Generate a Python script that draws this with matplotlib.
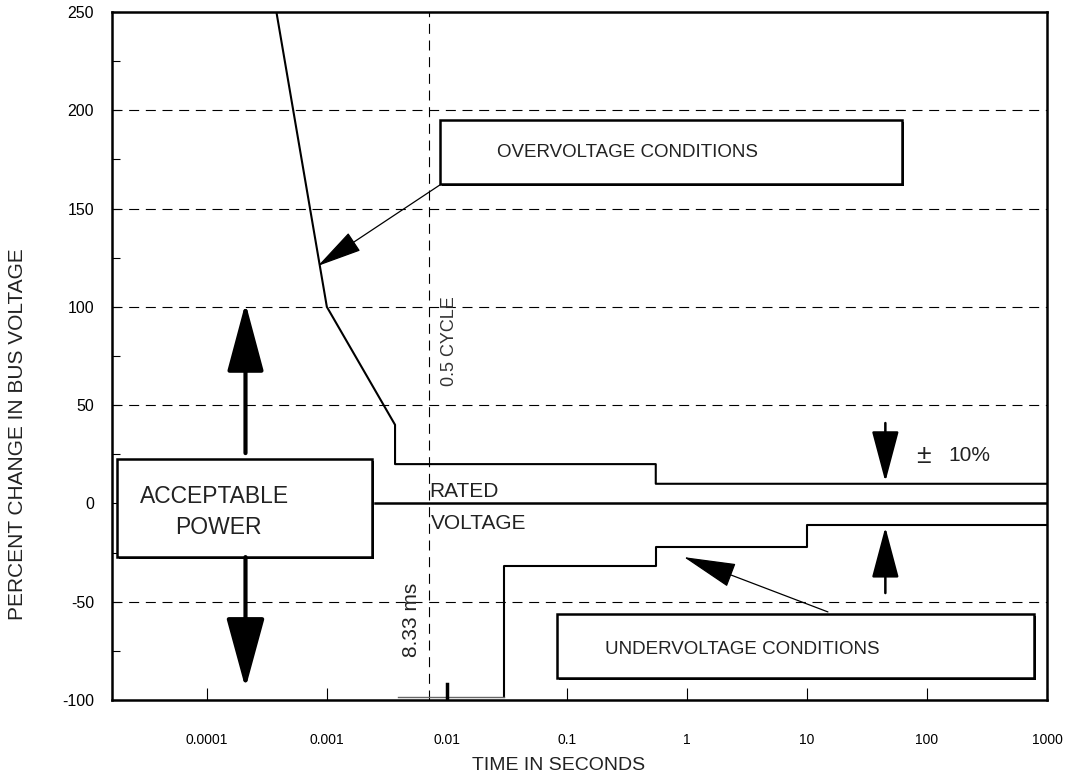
import matplotlib
matplotlib.use("Agg")
import matplotlib.pyplot as plt
import matplotlib.patheffects as pe
from matplotlib.patches import Rectangle
from matplotlib.ticker import FixedLocator, NullFormatter

plt.rcParams['font.family'] = ['Liberation Sans', 'DejaVu Sans']

# tolerance envelope
upper_t = [3.8e-4, 0.001, 0.0037, 0.0037, 0.55, 0.55, 1000]
upper_v = [250, 100, 40, 20, 20, 10, 10]
lower_t = [0.03, 0.03, 0.55, 0.55, 10, 10, 1000]
lower_v = [-98.5, -32, -32, -22, -22, -11, -11]
lower_lead_t = [0.0039, 0.03]
lower_lead_v = [-98.5, -98.5]
rated_t = [0.0025, 1000]
rated_v = [0, 0]
half_cycle_t = 0.0071

x_ticks = [1e-4, 1e-3, 1e-2, 1e-1, 1, 10, 100, 1000]
x_labels = ['0.0001', '0.001', '0.01', '0.1', '1', '10', '100', '1000']
y_ticks = [-100, -50, 0, 50, 100, 150, 200, 250]
y_minor = [-75, -25, 25, 75, 125, 175, 225]
grid_levels = [-50, 50, 100, 150, 200]

fig = plt.figure(figsize=(10.71, 7.76), dpi=100)
ax = fig.add_axes([112 / 1071, 76 / 776, 935 / 1071, 688 / 776])
ax.set_xscale('log')
ax.set_xlim(10 ** -4.79, 1000)
ax.set_ylim(-100, 250)

for s in ax.spines.values():
    s.set_linewidth(1.8)

ax.xaxis.set_major_locator(FixedLocator(x_ticks))
ax.xaxis.set_minor_locator(FixedLocator([]))
ax.set_xticklabels(x_labels)
ax.xaxis.set_minor_formatter(NullFormatter())
ax.set_yticks(y_ticks)
ax.set_yticklabels([str(v) for v in y_ticks])
ax.yaxis.set_minor_locator(FixedLocator(y_minor))
ax.tick_params(axis='x', which='major', direction='in', length=9, width=0.8,
               pad=24, labelsize=10, colors='black')
ax.tick_params(axis='y', which='both', direction='in', length=6, width=0.8,
               pad=13, labelsize=11.5)

# dashed grid
for g in grid_levels:
    ax.axhline(g, color='black', lw=0.8, ls=(0, (9, 6)), zorder=1)
ax.axvline(half_cycle_t, color='black', lw=0.8, ls=(0, (9, 6)), zorder=1)

# curves
ax.plot(upper_t, upper_v, color='black', lw=1.5, zorder=3)
ax.plot(lower_t, lower_v, color='black', lw=1.5, zorder=3)
ax.plot(lower_lead_t, lower_lead_v, color='#666666', lw=1.0, zorder=3)
ax.plot(rated_t, rated_v, color='black', lw=1.8, zorder=3)
ax.plot([0.01, 0.01], [-100, -92], color='black', lw=2.5, zorder=3)

# boxes with a slight drop shadow
shadow = [pe.SimplePatchShadow(offset=(1.5, -1.5), shadow_rgbFace='black', alpha=1.0),
          pe.Normal()]
def box(x0, x1, y0, y1):
    r = Rectangle((x0, y0), x1 - x0, y1 - y0, facecolor='white', edgecolor='black',
                  lw=1.8, zorder=4, path_effects=shadow)
    ax.add_patch(r)

box(1.78e-5, 2.37e-3, -27.3, 22.6)
box(0.00874, 61.9, 162.5, 195.1)
box(0.0826, 779, -88.8, -56.2)

ax.text(1.17e-4, 3.3, 'ACCEPTABLE', fontsize=16.5, ha='center', va='center', color='#222222', zorder=5)
ax.text(1.25e-4, -12.5, 'POWER', fontsize=16.5, ha='center', va='center', color='#222222', zorder=5)
ax.text(0.322, 178.3, 'OVERVOLTAGE CONDITIONS', fontsize=13.5, ha='center', va='center', color='#222222', zorder=5)
ax.text(2.87, -74.5, 'UNDERVOLTAGE CONDITIONS', fontsize=13.5, ha='center', va='center', color='#222222', zorder=5)
ax.text(0.0072, 6.3, 'RATED', fontsize=15, ha='left', va='center', color='#222222', zorder=5)
ax.text(0.0074, -10, 'VOLTAGE', fontsize=15, ha='left', va='center', color='#222222', zorder=5)
ax.text(93, 24, '\u00b1', fontsize=19, ha='center', va='center', color='#222222', zorder=5)
ax.text(150, 24.6, '10%', fontsize=15, ha='left', va='center', color='#222222', zorder=5)
ax.text(0.0106, 82.6, '0.5 CYCLE', fontsize=13, rotation=90, ha='center', va='center', color='#333333', zorder=5)
ax.text(0.0051, -59.3, '8.33 ms', fontsize=15, rotation=90, ha='center', va='center', color='#222222', zorder=5)

# arrows
def arrow(x0, y0, x1, y1, lw, hl, hw):
    ax.annotate('', xy=(x1, y1), xytext=(x0, y0),
                arrowprops=dict(arrowstyle='-|>,head_length=%s,head_width=%s' % (hl, hw),
                                color='black', lw=lw, shrinkA=0, shrinkB=0,
                                mutation_scale=10),
                zorder=6)

arrow(2.1e-4, 25.6, 2.1e-4, 102, 3, 4.3, 1.15)
arrow(2.1e-4, -27.3, 2.1e-4, -94, 3, 4.4, 1.2)
arrow(45, 40.9, 45, 11, 1.8, 3.2, 0.85)
arrow(45, -45.6, 45, -12, 1.8, 3.2, 0.85)
arrow(0.00874, 162, 8.41e-4, 120.8, 0.9, 2.9, 0.7)
arrow(14.96, -55.2, 0.944, -27.3, 0.9, 3.4, 0.8)

ax.set_xlabel('TIME IN SECONDS', fontsize=14, color='#222222')
ax.xaxis.set_label_coords(0.478, -0.083)
ax.set_ylabel('PERCENT CHANGE IN BUS VOLTAGE', fontsize=15, color='#222222')
ax.yaxis.set_label_coords(-0.091, 0.387)

fig.savefig('out.png', dpi=100)
